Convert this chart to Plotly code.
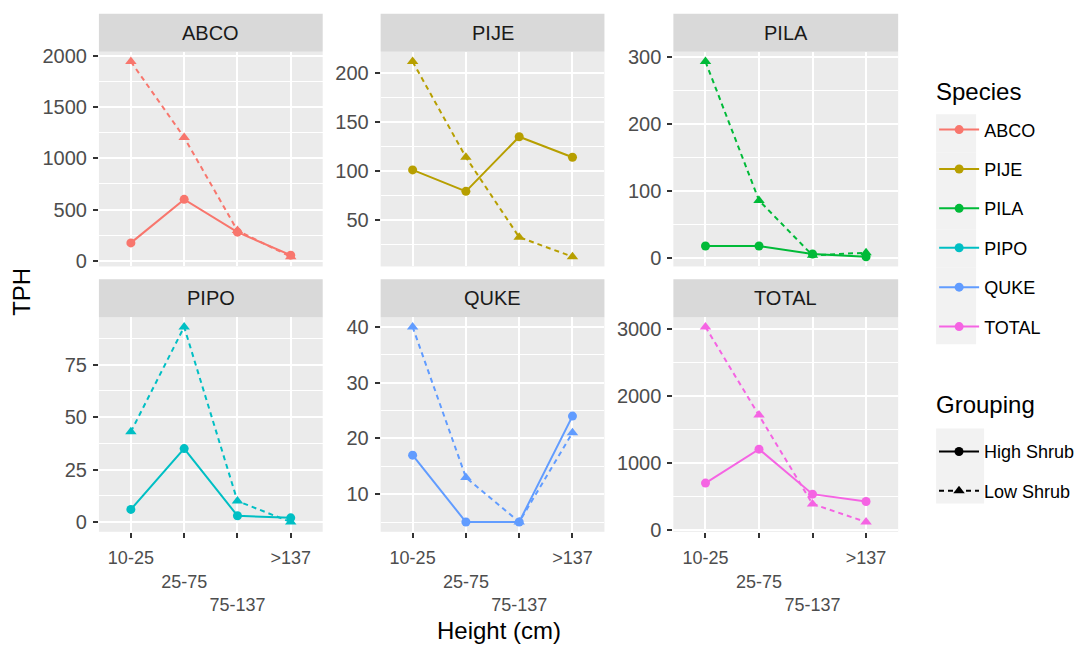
import plotly.graph_objects as go

# ---------------- data ----------------
HEIGHTS = ["10-25", "25-75", "75-137", ">137"]
HEIGHT_LABELS = ["10-25", "<br>25-75", "<br><br>75-137", "&gt;137"]
SPECIES = ["ABCO", "PIJE", "PILA", "PIPO", "QUKE", "TOTAL"]
GROUPINGS = ["High Shrub", "Low Shrub"]
COLORS = ["#F8766D", "#B79F00", "#00BA38", "#00BFC4", "#619CFF", "#F564E3"]

abco_high = [175, 600, 280, 55]
abco_low = [1945, 1205, 295, 40]
pije_high = [101, 79, 135, 114]
pije_low = [212, 114, 32, 12]
pila_high = [18, 18, 6, 2]
pila_low = [293, 86, 4, 8]
pipo_high = [6, 35, 3, 2]
pipo_low = [43, 93, 10, 0]
quke_high = [17, 5, 5, 24]
quke_low = [40, 13, 5, 21]
total_high = [700, 1205, 535, 425]
total_low = [3025, 1715, 390, 120]

SERIES = {
    "ABCO": (abco_high, abco_low),
    "PIJE": (pije_high, pije_low),
    "PILA": (pila_high, pila_low),
    "PIPO": (pipo_high, pipo_low),
    "QUKE": (quke_high, quke_low),
    "TOTAL": (total_high, total_low),
}
Y_DTICK = {"ABCO": 500, "PIJE": 50, "PILA": 100, "PIPO": 25, "QUKE": 10, "TOTAL": 1000}

# ---------------- layout geometry (pixels) ----------------
W, H = 1080, 651
COLS = [(99, 323), (381, 605), (674, 899)]
ROWS = [(46, 266), (318, 538)]
STRIPS = [(7, 46), (279, 318)]

FONT = "Arial, Liberation Sans, sans-serif"
DASH = "5px,4px"

fig = go.Figure()
layout = dict(
    width=W, height=H,
    margin=dict(l=0, r=0, t=0, b=0),
    paper_bgcolor="white", plot_bgcolor="#EBEBEB",
    font=dict(family=FONT, color="#4D4D4D"),
    shapes=[], annotations=[],
)

for i, sp in enumerate(SPECIES):
    r, c = divmod(i, 3)
    n = i + 1
    xs = "" if n == 1 else str(n)
    x0, x1 = COLS[c]
    y0, y1 = ROWS[r]
    high, low = SERIES[sp]
    allv = high + low
    vmin, vmax = min(allv), max(allv)
    pad = 0.05 * (vmax - vmin)

    for g, vals in enumerate((high, low)):
        fig.add_trace(go.Scatter(
            x=HEIGHTS, y=vals, mode="lines+markers",
            line=dict(color=COLORS[i], width=2, dash="solid" if g == 0 else DASH),
            marker=dict(symbol="circle" if g == 0 else "triangle-up",
                        size=9 if g == 0 else 10, color=COLORS[i]),
            xaxis="x" + xs, yaxis="y" + xs, showlegend=False,
            name=f"{sp} {GROUPINGS[g]}", hoverinfo="x+y+name",
        ))

    bottom = r == 1
    layout["xaxis" + xs] = dict(
        domain=[x0 / W, x1 / W], anchor="y" + xs,
        type="category", categoryorder="array", categoryarray=HEIGHTS,
        range=[-0.6, 3.6],
        tickmode="array", tickvals=HEIGHTS,
        ticktext=HEIGHT_LABELS if bottom else [""] * 4,
        showticklabels=bottom, tickangle=0,
        ticks="outside" if bottom else "", ticklen=5, tickwidth=2, tickcolor="#333333",
        tickfont=dict(size=18, color="#4D4D4D"),
        ticklabelstandoff=5,
        showgrid=True, gridcolor="white", gridwidth=2,
        zeroline=False, showline=False, fixedrange=True,
    )
    dt = Y_DTICK[sp]
    layout["yaxis" + xs] = dict(
        domain=[1 - y1 / H, 1 - y0 / H], anchor="x" + xs,
        range=[vmin - pad, vmax + pad],
        tick0=0, dtick=dt,
        ticks="outside", ticklen=5, tickwidth=2, tickcolor="#333333",
        tickfont=dict(size=20, color="#4D4D4D"),
        ticklabelstandoff=2,
        showgrid=True, gridcolor="white", gridwidth=2,
        minor=dict(tick0=0, dtick=dt / 2, showgrid=True, gridcolor="white",
                   gridwidth=1, ticks=""),
        zeroline=False, showline=False, fixedrange=True,
    )
    # strip
    s0, s1 = STRIPS[r]
    layout["shapes"].append(dict(
        type="rect", xref="paper", yref="paper", layer="below",
        x0=x0 / W, x1=x1 / W, y0=1 - s1 / H, y1=1 - s0 / H,
        fillcolor="#D9D9D9", line=dict(width=0),
    ))
    layout["annotations"].append(dict(
        text=sp, xref="paper", yref="paper",
        x=(x0 + x1) / 2 / W, y=1 - (s0 + s1) / 2 / H,
        xanchor="center", yanchor="middle", showarrow=False,
        font=dict(size=20, color="#1A1A1A", family=FONT),
    ))

# axis titles
layout["annotations"].append(dict(
    text="TPH", xref="paper", yref="paper", x=22 / W, y=1 - 292 / H,
    xanchor="center", yanchor="middle", textangle=-90, showarrow=False,
    font=dict(size=24, color="black", family=FONT),
))
layout["annotations"].append(dict(
    text="Height (cm)", xref="paper", yref="paper", x=499 / W, y=1 - 639 / H,
    xanchor="center", yanchor="middle", showarrow=False,
    font=dict(size=24, color="black", family=FONT),
))

# legend titles
for title, yc in (("Species", 87), ("Grouping", 408)):
    layout["annotations"].append(dict(
        text=title, xref="paper", yref="paper", x=935 / W, y=1 - yc / H,
        xanchor="left", yanchor="middle", showarrow=False,
        font=dict(size=24, color="black", family=FONT),
    ))

# legend key backgrounds
for k in range(6):
    layout["shapes"].append(dict(
        type="rect", xref="paper", yref="paper", layer="below",
        x0=937 / W, x1=977 / W, y0=1 - (110 + 39.3 * (k + 1)) / H, y1=1 - (110 + 39.3 * k) / H,
        fillcolor="#F2F2F2", line=dict(width=0),
    ))
for k in range(2):
    layout["shapes"].append(dict(
        type="rect", xref="paper", yref="paper", layer="below",
        x0=937 / W, x1=985 / W, y0=1 - (432 + 38.5 * (k + 1)) / H, y1=1 - (432 + 38.5 * k) / H,
        fillcolor="#F2F2F2", line=dict(width=0),
    ))

# legend entries
for i, sp in enumerate(SPECIES):
    fig.add_trace(go.Scatter(
        x=[None], y=[None], mode="lines+markers", name=sp,
        line=dict(color=COLORS[i], width=2), marker=dict(symbol="circle", size=9, color=COLORS[i]),
        legend="legend", legendgroup=sp, showlegend=True,
    ))
for g, gname in enumerate(GROUPINGS):
    fig.add_trace(go.Scatter(
        x=[None], y=[None], mode="lines+markers", name=gname,
        line=dict(color="black", width=2, dash="solid" if g == 0 else DASH),
        marker=dict(symbol="circle" if g == 0 else "triangle-up", size=9 if g == 0 else 10, color="black"),
        legend="legend2", legendgroup=gname, showlegend=True,
    ))

layout["legend"] = dict(
    x=935 / W, xanchor="left", y=1 - 107 / H, yanchor="top",
    font=dict(size=18, color="black", family=FONT), itemwidth=40,
    tracegroupgap=13, traceorder="grouped", bgcolor="rgba(0,0,0,0)", borderwidth=0,
)
layout["legend2"] = dict(
    x=935 / W, xanchor="left", y=1 - 437 / H, yanchor="top",
    font=dict(size=18, color="black", family=FONT), itemwidth=40,
    tracegroupgap=13, traceorder="grouped", bgcolor="rgba(0,0,0,0)", borderwidth=0,
)

fig.update_layout(**layout)
fig.write_html("out.html")
